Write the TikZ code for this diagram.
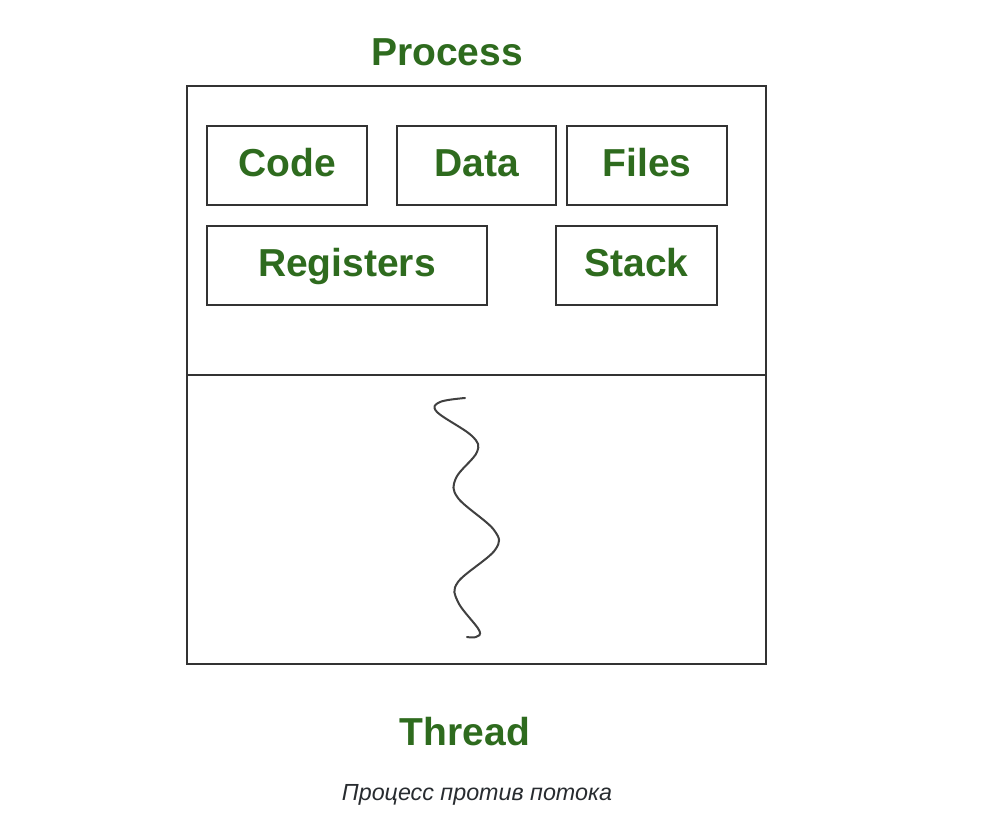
\documentclass[tikz,border=0pt]{standalone}
\usepackage{fontspec}
\setmainfont{Liberation Sans}
\begin{document}
\begin{tikzpicture}[x=1pt,y=-1pt,
  frame/.style={draw=black!80,line width=2pt},
  part/.style={draw=black!80,line width=2pt,inner sep=0pt,anchor=north west,
    text height=25pt,text depth=3pt,
    font=\fontsize{39}{42}\selectfont\bfseries,text=procgreen},
  title/.style={font=\fontsize{39}{42}\selectfont\bfseries,text=procgreen},
]
\definecolor{procgreen}{RGB}{46,107,30}
\definecolor{captiongray}{RGB}{40,44,48}
\useasboundingbox[fill=white] (0,0) rectangle (1002,824);

% process frame and thread section
\node[frame,inner sep=0pt,minimum width=579pt,minimum height=578pt,anchor=north west] (proc) at (186,85) {};
\coordinate (divL) at (186,375);
\coordinate (divR) at (765,375);
\draw[frame] (divL) -- (divR);

% resources held by the process
\node[part,minimum width=160pt,minimum height=79pt] (code) at (206,125) {Code};
\node[part,minimum width=159pt,minimum height=79pt] (data) at (396,125) {Data};
\node[part,minimum width=160pt,minimum height=79pt] (files) at (566,125) {Files};
\node[part,minimum width=280pt,minimum height=79pt] (regs) at (206,225) {Registers};
\node[part,minimum width=161pt,minimum height=79pt] (stack) at (555,225) {Stack};

% the thread drawn as a wavy line
\draw[black!75,line width=2pt,line cap=round]
  plot[smooth,tension=0.6] coordinates {(465,398) (440,402) (437,412) (472,436) (477,452) (456,478) (458,498) (494,530) (495,550) (458,582) (458,602) (479,630) (476,637) (467,637)};

% labels
\node[title] (ptitle) at (447,52) {Process};
\node[title] (ttitle) at (465,732) {Thread};
\node[font=\fontsize{23.3}{26}\selectfont\itshape,text=captiongray] (caption) at (477,795) {Процесс против потока};
\end{tikzpicture}
\end{document}
